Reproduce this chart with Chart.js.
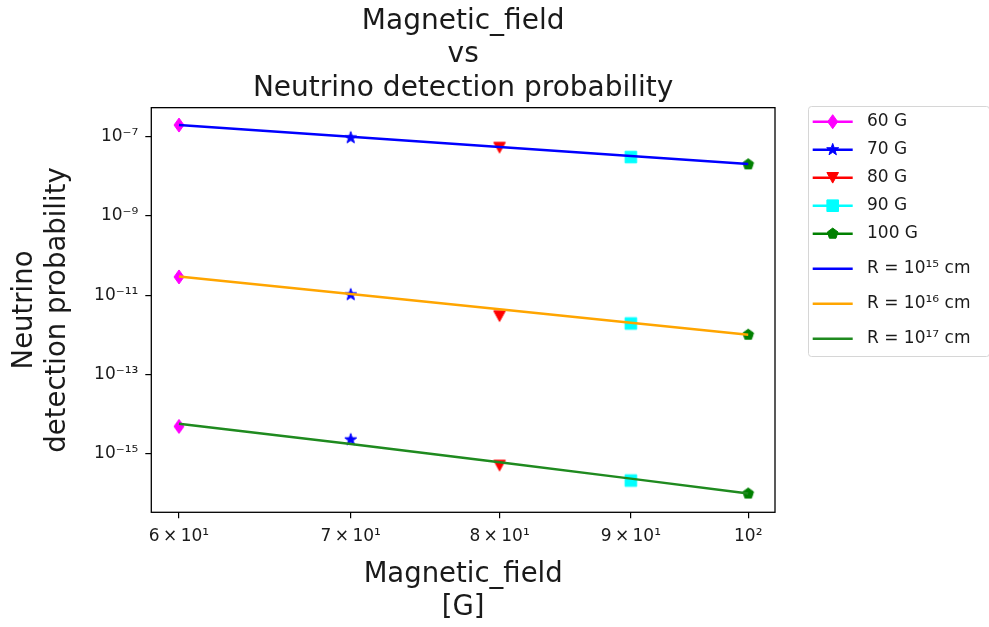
<!DOCTYPE html>
<html>
<head>
<meta charset="utf-8">
<script src="https://cdn.jsdelivr.net/npm/chart.js@4"></script>
<style>
  body { margin: 0; background: #fff; }
  canvas { display: block; }
</style>
</head>
<body>
<canvas id="chart" width="989" height="627"></canvas>
<script>
// magnetic field values (G)
const fields = [60, 70, 80, 90, 100];

// marker series: one point per source radius (R = 1e15, 1e16, 1e17 cm)
const markerLabels = ['60 G', '70 G', '80 G', '90 G', '100 G'];
const prob60 = [1.97e-7, 2.92e-11, 4.98e-15];
const prob70 = [9.4e-8, 1.04e-11, 2.3e-15];
const prob80 = [5.33e-8, 3.0e-12, 5.15e-16];
const prob90 = [3.07e-8, 1.96e-12, 2.15e-16];
const prob100 = [2.01e-8, 1.02e-12, 1.01e-16];

// fitted lines per radius
const radiusLabels = ['R = 10¹⁵ cm', 'R = 10¹⁶ cm', 'R = 10¹⁷ cm'];
const fit15 = [1.97e-7, 1.0e-7, 5.5e-8, 3.25e-8, 2.04e-8];
const fit16 = [3.0e-11, 1.08e-11, 4.46e-12, 2.04e-12, 1.02e-12];
const fit17 = [5.8e-15, 1.8e-15, 6.2e-16, 2.4e-16, 1.01e-16];

// ticks
const xTickValues = [60, 70, 80, 90, 100];
const xTickLabels = ['6\u2009×\u200910¹', '7\u2009×\u200910¹', '8\u2009×\u200910¹', '9\u2009×\u200910¹', '10²'];
const yTickValues = [1e-15, 1e-13, 1e-11, 1e-9, 1e-7];
const yTickLabels = ['10⁻¹⁵', '10⁻¹³', '10⁻¹¹', '10⁻⁹', '10⁻⁷'];

const FONT = '"DejaVu Sans", sans-serif';
const TEXT = '#1a1a1a';

// marker outlines, centred on 0,0
function tracePath(g, shape) {
  g.beginPath();
  if (shape === 'thinDiamond') {
    g.moveTo(0, -7); g.lineTo(5, 0); g.lineTo(0, 7); g.lineTo(-5, 0);
  } else if (shape === 'star') {
    for (let k = 0; k < 10; k++) {
      const a = -Math.PI / 2 + k * Math.PI / 5;
      const r = k % 2 ? 2.5 : 6.3;
      g.lineTo(r * Math.cos(a), r * Math.sin(a));
    }
  } else if (shape === 'triDown') {
    g.moveTo(-5.8, -5.2); g.lineTo(5.8, -5.2); g.lineTo(0, 5.4);
  } else if (shape === 'square') {
    g.rect(-5.8, -5.8, 11.6, 11.6);
  } else if (shape === 'pentagon') {
    for (let k = 0; k < 5; k++) {
      const a = -Math.PI / 2 + k * 2 * Math.PI / 5;
      g.lineTo(5.6 * Math.cos(a), 5.6 * Math.sin(a));
    }
  }
  g.closePath();
}

function makeMarker(shape, color) {
  const c = document.createElement('canvas');
  c.width = 20; c.height = 20;
  const g = c.getContext('2d');
  g.translate(10, 10);
  tracePath(g, shape);
  g.fillStyle = color; g.strokeStyle = color; g.lineWidth = 1;
  g.fill(); g.stroke();
  return c;
}

const markerShapes = ['thinDiamond', 'star', 'triDown', 'square', 'pentagon'];
const markerColors = ['#ff00ff', '#0000ff', '#ff0000', '#00ffff', '#008000'];
const markerValues = [prob60, prob70, prob80, prob90, prob100];
const lineColors = ['#0000ff', '#ffa500', '#1f8a1f'];
const lineValues = [fit15, fit16, fit17];

const datasets = [];
markerLabels.forEach((label, i) => {
  datasets.push({
    label: label,
    data: markerValues[i].map(v => ({ x: fields[i], y: v })),
    showLine: false,
    borderColor: markerColors[i],
    backgroundColor: markerColors[i],
    pointStyle: makeMarker(markerShapes[i], markerColors[i]),
    pointRadius: 6,
    markerShape: markerShapes[i],
    order: 1,
  });
});
radiusLabels.forEach((label, i) => {
  datasets.push({
    label: label,
    data: lineValues[i].map((v, j) => ({ x: fields[j], y: v })),
    borderColor: lineColors[i],
    backgroundColor: lineColors[i],
    borderWidth: 2.5,
    pointRadius: 0,
    order: 0,
  });
});

// box around the plot area, like matplotlib spines
const frame = {
  id: 'frame',
  afterDatasetsDraw(chart) {
    const { left, top, width, height } = chart.chartArea;
    const ctx = chart.ctx;
    ctx.save();
    ctx.strokeStyle = '#000';
    ctx.lineWidth = 1.3;
    ctx.strokeRect(left, top, width, height);
    ctx.restore();
  },
};

// legend to the right of the axes
const sideLegend = {
  id: 'sideLegend',
  afterDraw(chart) {
    const ctx = chart.ctx;
    ctx.save();
    ctx.beginPath();
    ctx.roundRect(808.5, 106.5, 181, 250, 3);
    ctx.fillStyle = 'rgba(255,255,255,0.8)';
    ctx.fill();
    ctx.strokeStyle = '#d6d6d6';
    ctx.lineWidth = 1;
    ctx.stroke();

    chart.data.datasets.forEach((ds, i) => {
      const y = 121.7 + 28 * Math.min(i, 4) + 35 * Math.max(0, i - 4);
      ctx.strokeStyle = ds.borderColor;
      ctx.lineWidth = 2.5;
      ctx.beginPath();
      ctx.moveTo(812.7, y);
      ctx.lineTo(852.7, y);
      ctx.stroke();
      if (ds.markerShape) {
        ctx.save();
        ctx.translate(832.7, y);
        tracePath(ctx, ds.markerShape);
        ctx.fillStyle = ds.backgroundColor;
        ctx.lineWidth = 1;
        ctx.fill();
        ctx.stroke();
        ctx.restore();
      }
      ctx.fillStyle = TEXT;
      ctx.font = '17px ' + FONT;
      ctx.textBaseline = 'middle';
      ctx.textAlign = 'left';
      ctx.fillText(ds.label, 867, y);
    });
    ctx.restore();
  },
};

new Chart(document.getElementById('chart'), {
  type: 'line',
  data: { datasets },
  plugins: [frame, sideLegend],
  options: {
    responsive: false,
    animation: false,
    layout: { padding: { left: 0, right: 214, top: 0, bottom: 0 } },
    plugins: {
      legend: { display: false },
      tooltip: { enabled: false },
      title: {
        display: true,
        fullSize: false,
        text: ['Magnetic_field', 'vs', 'Neutrino detection probability'],
        color: TEXT,
        font: { family: FONT, size: 28, weight: 'normal', lineHeight: 1.19 },
        padding: { top: 5, bottom: 2.7 },
      },
    },
    scales: {
      x: {
        type: 'logarithmic',
        min: 58.53,
        max: 102.43,
        bounds: 'data',
        afterBuildTicks: s => { s.ticks = xTickValues.map(v => ({ value: v })); },
        afterFit: s => { s.height = 627 - 512.3; },
        ticks: {
          callback: (v, i) => xTickLabels[i],
          autoSkip: false,
          maxRotation: 0,
          padding: 8,
          color: TEXT,
          font: { family: FONT, size: 17 },
        },
        grid: { drawOnChartArea: false, tickLength: 6, tickColor: '#000', lineWidth: 1.2 },
        border: { display: false },
        title: {
          display: true,
          text: ['Magnetic_field', '[G]'],
          color: TEXT,
          font: { family: FONT, size: 27.5, lineHeight: 1.2 },
          padding: { top: 0, bottom: 3 },
        },
      },
      y: {
        type: 'logarithmic',
        min: 3.4e-17,
        max: 5.4e-7,
        bounds: 'data',
        afterBuildTicks: s => { s.ticks = yTickValues.map(v => ({ value: v })); },
        afterFit: s => { s.width = 151.3; },
        ticks: {
          callback: (v, i) => yTickLabels[i],
          autoSkip: false,
          padding: 7,
          color: TEXT,
          font: { family: FONT, size: 17 },
        },
        grid: { drawOnChartArea: false, tickLength: 6, tickColor: '#000', lineWidth: 1.2 },
        border: { display: false },
        title: {
          display: true,
          text: ['Neutrino', 'detection probability'],
          color: TEXT,
          font: { family: FONT, size: 27.5, lineHeight: 1.2 },
          padding: { top: 8, bottom: 0 },
        },
      },
    },
  },
});
</script>
</body>
</html>
